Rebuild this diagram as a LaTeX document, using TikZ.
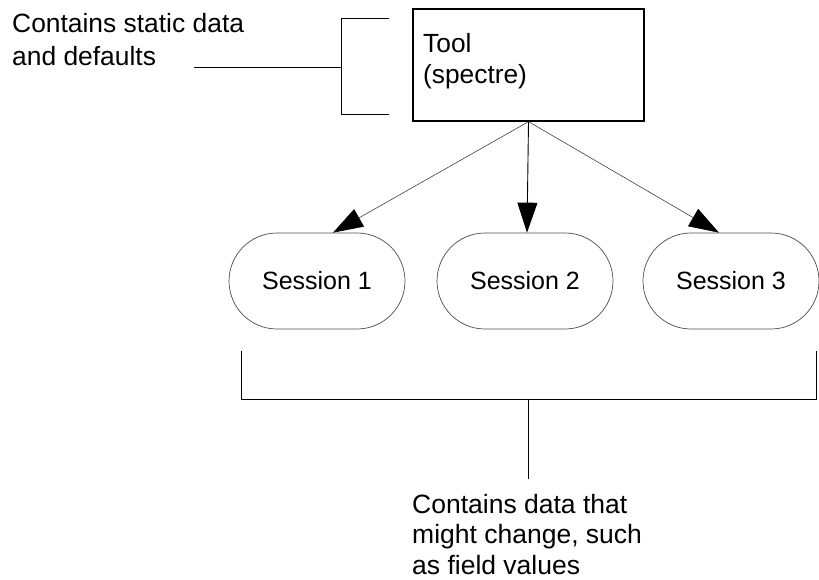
\documentclass[tikz,border=0pt]{standalone}
\usepackage{fontspec}
\setmainfont{Liberation Sans}
\usetikzlibrary{shapes.misc,arrows.meta,calc}

\tikzset{
  txt/.style={inner sep=0pt, align=left},
  toolbox/.style={draw=black, line width=1.3pt, minimum width=231pt, minimum height=112pt},
  session/.style={rounded rectangle, draw=black!70, line width=0.7pt,
    minimum width=176pt, minimum height=96pt, inner sep=0pt,
    font=\fontsize{25}{31}\selectfont},
  spoke/.style={draw=black!75, line width=0.6pt,
    -{Triangle[length=30pt,width=20pt,color=black]}},
  brace/.style={draw=black, line width=1pt}
}

\begin{document}
\begin{tikzpicture}[x=1pt,y=-1pt]
  \useasboundingbox (0,0) rectangle (819,579);

  % tool object
  \node[toolbox] (tool) at (528.5,65) {};
  \node[txt, anchor=base west, font=\fontsize{26.3}{31}\selectfont] (tooltxt) at (423,83) {Tool\\(spectre)};

  % sessions
  \node[session] (s1) at (317,281) {Session 1};
  \node[session] (s2) at (525,281) {Session 2};
  \node[session] (s3) at (731,281) {Session 3};

  % spokes from the tool to each session
  \draw[spoke] (tool.south) -- ($(s1.north)+(16,0)$);
  \draw[spoke, draw=black, line width=0.9pt] (tool.south) -- ($(s2.north)+(2,0)$);
  \draw[spoke] (tool.south) -- ($(s3.north)+(-12,0)$);

  % bracket for the static data
  \coordinate (bt) at (389,18);
  \coordinate (bb) at (389,114);
  \coordinate (lend) at (194,67);
  \draw[brace] (bt) -- (341,18) -- (341,114) -- (bb);
  \draw[brace] (lend) -- (341,67);
  \node[txt, anchor=base west, font=\fontsize{26.4}{33}\selectfont] (static) at (12,65) {Contains static data\\and defaults};

  % bracket under the sessions
  \coordinate (ll) at (241,351);
  \coordinate (lr) at (816,351);
  \coordinate (stem) at (528,479);
  \draw[brace] (ll) -- (241,399) -- (816,399) -- (lr);
  \draw[brace] (528,399) -- (stem);
  \node[txt, anchor=base west, font=\fontsize{26.5}{30.5}\selectfont] (dynamic) at (412,574)
    {Contains data that\\might change, such\\as field values};
\end{tikzpicture}
\end{document}
